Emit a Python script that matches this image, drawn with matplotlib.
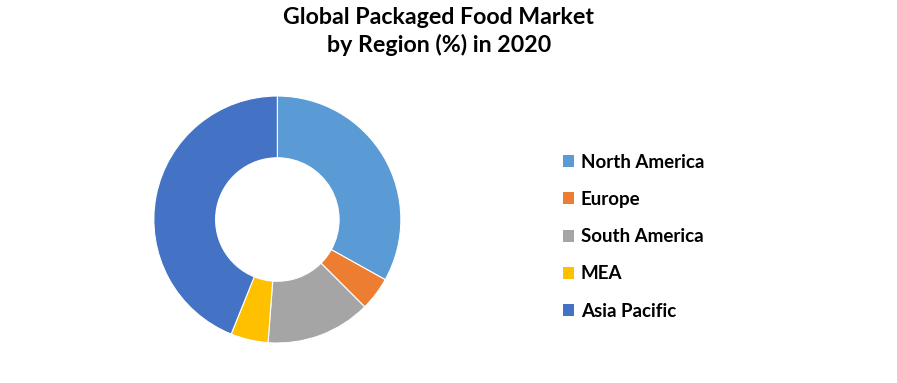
import matplotlib
matplotlib.use("Agg")
import matplotlib.pyplot as plt
from matplotlib.patches import Patch

plt.rcParams['font.family'] = ['Lato', 'DejaVu Sans']

regions = ['North America', 'Europe', 'South America', 'MEA', 'Asia Pacific']
shares = [33.1, 4.4, 13.7, 4.9, 43.9]
colors = ['#5B9BD5', '#ED7D31', '#A5A5A5', '#FFC000', '#4472C4']

fig = plt.figure(figsize=(8.97, 3.83), dpi=100)
ax = fig.add_axes([0.1715, 0.1044, 0.2754, 0.6449])

ax.pie(shares, colors=colors, startangle=90, counterclock=False, radius=1,
       wedgeprops=dict(width=0.5, edgecolor='white', linewidth=0.8))
ax.set_xlim(-1, 1)
ax.set_ylim(-1, 1)
ax.set_aspect('equal')
ax.axis('off')

fig.text(0.489, 1 - 7 / 383, 'Global Packaged Food Market\nby Region (%) in 2020',
         ha='center', va='top', fontsize=16.7, fontweight='bold', linespacing=1.32)

handles = [Patch(facecolor=c, edgecolor='none') for c in colors]
fig.legend(handles, regions, loc='center left', bbox_to_anchor=(0.6277, 0.382),
           frameon=False, prop={'weight': 'bold', 'size': 13.5},
           handlelength=0.6, handleheight=0.6, handletextpad=0.35,
           labelspacing=1.08, borderpad=0, borderaxespad=0)

fig.savefig('out.png', dpi=100)
